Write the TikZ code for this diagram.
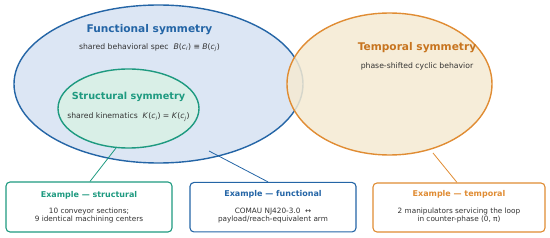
\documentclass[tikz,border=0pt]{standalone}
\usepackage{fontspec}
\setmainfont{DejaVu Sans}
\definecolor{fblue}{HTML}{2465A6}
\definecolor{ffill}{HTML}{DCE6F4}
\definecolor{sgreen}{HTML}{1E9A80}
\definecolor{sfill}{HTML}{D9EFE7}
\definecolor{torange}{HTML}{E08C33}
\definecolor{ttext}{HTML}{C7741F}
\definecolor{tfill}{HTML}{F5EAD2}
\definecolor{txt}{HTML}{333333}
\tikzset{
  body/.style={text=txt, font=\fontsize{7.7}{9}\selectfont, align=center, inner sep=0pt},
  boxbody/.style={text=txt, font=\fontsize{7.3}{8}\selectfont, align=center, inner sep=0pt},
  exbox/.style={draw=#1, rounded corners=4pt, line width=1.1pt, fill=white},
  boxtitle/.style={text=#1, font=\bfseries\fontsize{8}{9}\selectfont, inner sep=0pt},
  link/.style={draw=#1, line width=0.8pt}
}
\begin{document}
\begin{tikzpicture}[x=1pt,y=-1pt]
\useasboundingbox (0,0) rectangle (550,238);
% ellipses
\draw[fill=ffill, draw=fblue, line width=1.4pt] (158.5,84) ellipse [x radius=144.5, y radius=79];
\draw[fill=sfill, draw=sgreen, line width=1.4pt] (128.5,108.5) ellipse [x radius=70.5, y radius=39.5];
\draw[fill=tfill, fill opacity=0.85, draw=torange, line width=1.4pt] (389.5,84) ellipse [x radius=102.5, y radius=71];
% ellipse texts
\node[text=fblue, font=\bfseries\fontsize{10.6}{12}\selectfont] (ft) at (149.5,30) {Functional symmetry};
\node[body] (fb) at (149.5,47.5) {shared behavioral spec\ \ \textit{B}(\textit{c}\textsubscript{\textit{i}}) ≡ \textit{B}(\textit{c}\textsubscript{\textit{j}})};
\node[text=sgreen, font=\bfseries\fontsize{9.7}{11}\selectfont] (st) at (128.5,97) {Structural symmetry};
\node[body] (sb) at (128.5,117) {shared kinematics\ \ \textit{K}(\textit{c}\textsubscript{\textit{i}}) = \textit{K}(\textit{c}\textsubscript{\textit{j}})};
\node[text=ttext, font=\bfseries\fontsize{10.6}{12}\selectfont] (tt) at (417,48) {Temporal symmetry};
\node[body] (tb) at (417,66) {phase-shifted cyclic behavior};
% anchor coordinates
\coordinate (sa) at (116,148);
\coordinate (fa) at (209,151);
\coordinate (ta) at (433,153);
% boxes
\node[exbox=sgreen, minimum width=166pt, minimum height=50pt] (sbox) at (89,207) {};
\node[exbox=fblue, minimum width=166pt, minimum height=49.5pt] (fbox) at (273,207.2) {};
\node[exbox=torange, minimum width=172pt, minimum height=49pt] (tbox) at (459,207.5) {};
% connectors
\draw[link=sgreen] (sa) -- (sbox.north -| 90,0);
\draw[link=fblue] (fa) -- (fbox.north -| 268,0);
\draw[link=torange] (ta) -- (tbox.north -| 457,0);
% box texts
\node[boxtitle=sgreen] (sbt) at (89,195) {Example — structural};
\node[boxbody] (sbb) at (89,215.5) {10 conveyor sections;\\9 identical machining centers};
\node[boxtitle=fblue] (fbt) at (273,194.5) {Example — functional};
\node[boxbody] (fbb) at (273,215.5) {COMAU NJ420-3.0\ \ ↔\\payload/reach-equivalent arm};
\node[boxtitle=torange] (tbt) at (459,194.5) {Example — temporal};
\node[boxbody] (tbb) at (459,215.5) {2 manipulators servicing the loop\\in counter-phase (0, π)};
\end{tikzpicture}
\end{document}
